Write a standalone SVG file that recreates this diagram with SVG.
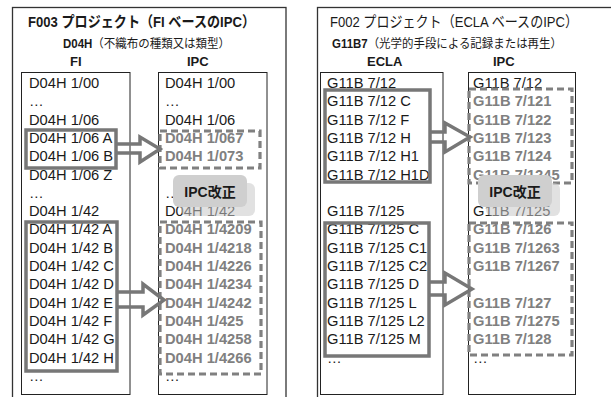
<svg xmlns="http://www.w3.org/2000/svg" width="611" height="397" viewBox="0 0 611 397">
<style>
text{font-family:"Liberation Sans",Arial,"Noto Sans CJK JP",sans-serif;fill:#1a1a1a}
.t{font-size:15px}
.st{font-size:12px}
.h{font-size:13px;font-weight:bold}
.r{font-size:14.7px}
.g{font-size:14.7px;font-weight:bold;fill:#808080}
.b{font-weight:bold}
.outer{fill:none;stroke:#333;stroke-width:1.3}
.box{fill:none;stroke:#222;stroke-width:1}
.sel{fill:none;stroke:#777;stroke-width:3.5}
.dash{fill:none;stroke:#808080;stroke-width:3.2;stroke-dasharray:7 4}
.arr{fill:none;stroke:#777;stroke-width:3.5;stroke-linejoin:miter}
.lb{fill:#cfcfcf}
.lbs{fill:#c8c8c8;fill-opacity:0.55}
.lt{font-size:14px;font-weight:bold}
</style>

<g id="panel-f003">
<rect class="outer" x="12.5" y="7.5" width="273.5" height="400"/>
<text class="t b" x="28" y="27" textLength="227" lengthAdjust="spacingAndGlyphs">F003 プロジェクト（FI ベースのIPC）</text>
<text class="st" x="63" y="48" textLength="167" lengthAdjust="spacingAndGlyphs"><tspan class="b">D04H</tspan>（不織布の種類又は類型）</text>
<text class="h" x="70" y="66">FI</text>
<text class="h" x="187" y="66">IPC</text>
</g>

<g id="fi-column">
<rect class="box" x="21.5" y="72.5" width="108.5" height="322"/>
<text class="r" x="29" y="88">D04H 1/00</text>
<text class="r" x="29" y="106.3">…</text>
<text class="r" x="29" y="124.6">D04H 1/06</text>
<text class="r" x="29" y="142.9">D04H 1/06 A</text>
<text class="r" x="29" y="161.2">D04H 1/06 B</text>
<text class="r" x="29" y="179.5">D04H 1/06 Z</text>
<text class="r" x="29" y="197.8">…</text>
<text class="r" x="29" y="216.1">D04H 1/42</text>
<text class="r" x="29" y="234.4">D04H 1/42 A</text>
<text class="r" x="29" y="252.7">D04H 1/42 B</text>
<text class="r" x="29" y="271">D04H 1/42 C</text>
<text class="r" x="29" y="289.3">D04H 1/42 D</text>
<text class="r" x="29" y="307.6">D04H 1/42 E</text>
<text class="r" x="29" y="325.9">D04H 1/42 F</text>
<text class="r" x="29" y="344.2">D04H 1/42 G</text>
<text class="r" x="29" y="362.5">D04H 1/42 H</text>
<text class="r" x="29" y="380.8">…</text>
<rect class="sel" x="26" y="130" width="90" height="38"/>
<rect class="sel" x="26" y="222" width="91" height="149"/>
</g>

<g id="ipc-column-left">
<rect class="box" x="158.5" y="72.5" width="108.5" height="322"/>
<text class="r" x="165" y="88">D04H 1/00</text>
<text class="r" x="165" y="106.3">…</text>
<text class="r" x="165" y="124.6">D04H 1/06</text>
<text class="g" x="165" y="142.9">D04H 1/067</text>
<text class="g" x="165" y="161.2">D04H 1/073</text>
<text class="r" x="165" y="197.8">…</text>
<text class="r" x="165" y="216.1">D04H 1/42</text>
<text class="g" x="165" y="234.4">D04H 1/4209</text>
<text class="g" x="165" y="252.7">D04H 1/4218</text>
<text class="g" x="165" y="271">D04H 1/4226</text>
<text class="g" x="165" y="289.3">D04H 1/4234</text>
<text class="g" x="165" y="307.6">D04H 1/4242</text>
<text class="g" x="165" y="325.9">D04H 1/425</text>
<text class="g" x="165" y="344.2">D04H 1/4258</text>
<text class="g" x="165" y="362.5">D04H 1/4266</text>
<text class="r" x="165" y="380.8">…</text>
<rect class="dash" x="160" y="131" width="100" height="37"/>
<rect class="dash" x="160" y="222" width="101" height="152"/>
</g>

<g id="label-left">
<rect class="lbs" x="181" y="183" width="74" height="33" rx="6"/>
<rect class="lb" x="173" y="175" width="74" height="32" rx="6"/>
<text class="lt" x="210" y="197" text-anchor="middle">IPC改正</text>
</g>

<g id="panel-f002">
<rect class="outer" x="317.5" y="7.5" width="300" height="400"/>
<text class="t" x="330" y="27" textLength="248" lengthAdjust="spacingAndGlyphs">F002 プロジェクト（ECLA ベースのIPC）</text>
<text class="st" x="332" y="48" textLength="230" lengthAdjust="spacingAndGlyphs"><tspan class="b">G11B7</tspan>（光学的手段による記録または再生）</text>
<text class="h" x="367" y="66">ECLA</text>
<text class="h" x="493" y="66">IPC</text>
</g>

<g id="ecla-column">
<rect class="box" x="320.5" y="72.5" width="122.5" height="322"/>
<text class="r" x="327" y="88">G11B 7/12</text>
<text class="r" x="327" y="106.3">G11B 7/12 C</text>
<text class="r" x="327" y="124.6">G11B 7/12 F</text>
<text class="r" x="327" y="142.9">G11B 7/12 H</text>
<text class="r" x="327" y="161.2">G11B 7/12 H1</text>
<text class="r" x="327" y="179.5">G11B 7/12 H1D</text>
<text class="r" x="327" y="216.1">G11B 7/125</text>
<text class="r" x="327" y="234.4">G11B 7/125 C</text>
<text class="r" x="327" y="252.7">G11B 7/125 C1</text>
<text class="r" x="327" y="271">G11B 7/125 C2</text>
<text class="r" x="327" y="289.3">G11B 7/125 D</text>
<text class="r" x="327" y="307.6">G11B 7/125 L</text>
<text class="r" x="327" y="325.9">G11B 7/125 L2</text>
<text class="r" x="327" y="344.2">G11B 7/125 M</text>
<text class="r" x="327" y="362.5">…</text>
<rect class="sel" x="325" y="90" width="105" height="92"/>
<rect class="sel" x="325" y="223" width="104" height="133"/>
</g>

<g id="ipc-column-right">
<rect class="box" x="468.5" y="72.5" width="107" height="322"/>
<text class="r" x="473" y="88">G11B 7/12</text>
<text class="g" x="473" y="106.3">G11B 7/121</text>
<text class="g" x="473" y="124.6">G11B 7/122</text>
<text class="g" x="473" y="142.9">G11B 7/123</text>
<text class="g" x="473" y="161.2">G11B 7/124</text>
<text class="g" x="473" y="179.5">G11B 7/1245</text>
<text class="r" x="473" y="216.1">G11B 7/125</text>
<text class="g" x="473" y="234.4">G11B 7/126</text>
<text class="g" x="473" y="252.7">G11B 7/1263</text>
<text class="g" x="473" y="271">G11B 7/1267</text>
<text class="g" x="473" y="307.6">G11B 7/127</text>
<text class="g" x="473" y="325.9">G11B 7/1275</text>
<text class="g" x="473" y="344.2">G11B 7/128</text>
<text class="r" x="473" y="362.5">…</text>
<rect class="dash" x="469" y="89" width="103" height="94"/>
<rect class="dash" x="469" y="223" width="103" height="132"/>
</g>

<g id="label-right">
<rect class="lbs" x="486" y="183" width="74" height="33" rx="6"/>
<rect class="lb" x="478" y="175" width="74" height="32" rx="6"/>
<text class="lt" x="515" y="197" text-anchor="middle">IPC改正</text>
</g>

<g id="connectors">
<polyline class="arr" points="116,144 140,144 140,137 160,149 140,162 140,153 116,153"/>
<polyline class="arr" points="117,292 143,292 143,284 164,300 143,315 143,307 117,307"/>
<polyline class="arr" points="430,132 445,132 445,123 470,137 445,152 445,142 430,142"/>
<polyline class="arr" points="429,282 445,282 445,273 472,289 445,305 445,295 429,295"/>
</g>
</svg>
